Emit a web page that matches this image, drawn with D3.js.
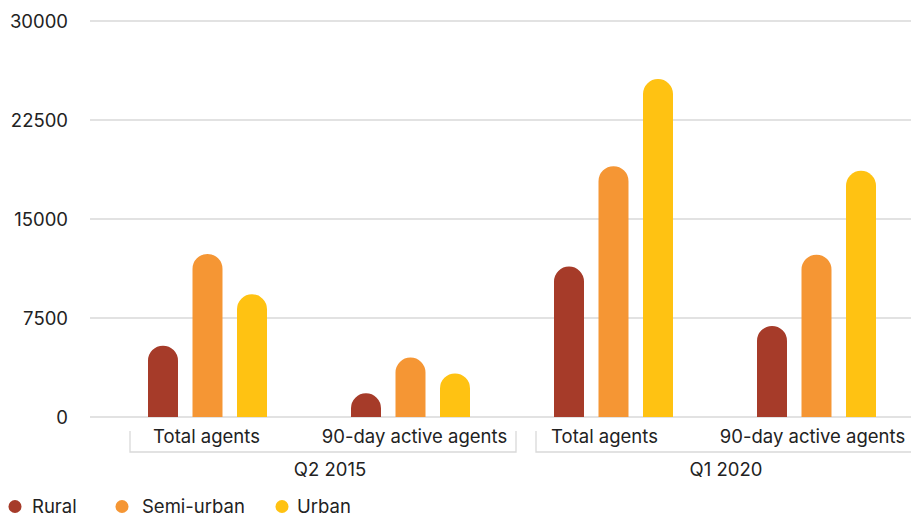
<!DOCTYPE html>
<html>
<head>
<meta charset="utf-8">
<script src="https://cdn.jsdelivr.net/npm/d3@7"></script>
<style>
  html, body { margin: 0; padding: 0; background: #fff; }
  svg { display: block; font-family: Inter, "Noto Sans", sans-serif; }
</style>
</head>
<body>
<svg id="chart" width="911" height="516"></svg>
<script>
// Agent counts by location, two periods
const periods = ["Q2 2015", "Q1 2020"];
const measures = ["Total agents", "90-day active agents"];
const series = ["Rural", "Semi-urban", "Urban"];
const colors = ["#A63B29", "#F59634", "#FFC212"];

// values per category (period × measure), in series order
const rural     = [5400, 1800, 11400, 6900];
const semiUrban = [12350, 4500, 19000, 12300];
const urban     = [9300, 3300, 25600, 18650];

const yTicks = [0, 7500, 15000, 22500, 30000];

const categories = [];
periods.forEach(p => measures.forEach(m => categories.push({ period: p, measure: m })));
const seriesValues = [rural, semiUrban, urban];

const fontSize = 18.5;
const textColor = "#222";
const gridColor = "#d9d9d9";

const svg = d3.select("#chart");
const plotLeft = 90, plotRight = 911;
const y = d3.scaleLinear().domain([0, 30000]).range([417, 21]);

const x0 = d3.scaleBand().domain(d3.range(categories.length)).range([106, 918]).padding(0);
const x1 = d3.scaleBand().domain(series).range([0, 119]).paddingInner(0.326).paddingOuter(0);

// gridlines and y tick labels
const yAxis = svg.append("g");
yAxis.selectAll("line").data(yTicks).join("line")
  .attr("x1", plotLeft).attr("x2", plotRight)
  .attr("y1", d => y(d)).attr("y2", d => y(d))
  .attr("stroke", gridColor).attr("stroke-width", 1.3);
yAxis.selectAll("text").data(yTicks).join("text")
  .attr("x", 68).attr("y", d => y(d)).attr("dy", "0.36em")
  .attr("text-anchor", "end").attr("font-size", fontSize).attr("fill", textColor)
  .text(d => d);

// bars with rounded tops
function barPath(x, w, yTop, yBase) {
  const r = Math.min(w / 2, yBase - yTop);
  return `M${x},${yBase}V${yTop + r}A${r},${r} 0 0 1 ${x + r},${yTop}` +
         `H${x + w - r}A${r},${r} 0 0 1 ${x + w},${yTop + r}V${yBase}Z`;
}
const bw = x1.bandwidth();
const catCenter = i => x0(i) + x0.bandwidth() / 2;
const labelNudge = [-1, 4, -9, -4];

categories.forEach((c, i) => {
  const g = svg.append("g").attr("transform", `translate(${catCenter(i) - 59.5},0)`);
  series.forEach((s, k) => {
    const v = seriesValues[k][i];
    g.append("path")
      .attr("d", barPath(x1(s), bw, y(v), y(0)))
      .attr("fill", colors[k]);
  });
  svg.append("text")
    .attr("x", catCenter(i) + labelNudge[i]).attr("y", 443)
    .attr("text-anchor", "middle").attr("font-size", fontSize).attr("fill", textColor)
    .text(c.measure);
});

// period brackets and labels
const groupNudge = [7, -3];
periods.forEach((p, j) => {
  const left = x0(j * 2) + 24;
  const right = x0(j * 2 + 1) + x0.bandwidth() + 4;
  svg.append("path")
    .attr("d", `M${left},431V452H${right}V431`)
    .attr("fill", "none").attr("stroke", gridColor).attr("stroke-width", 1.3);
  svg.append("text")
    .attr("x", (left + right) / 2 + groupNudge[j]).attr("y", 476)
    .attr("text-anchor", "middle").attr("font-size", fontSize).attr("fill", textColor)
    .text(p);
});

// legend
const legendDot = [15, 122, 282];
const legendText = [32, 142, 297];
const legend = svg.append("g");
series.forEach((s, k) => {
  legend.append("circle").attr("cx", legendDot[k]).attr("cy", 506.5).attr("r", 6.5).attr("fill", colors[k]);
  legend.append("text").attr("x", legendText[k]).attr("y", 512.5)
    .attr("font-size", fontSize).attr("fill", textColor).text(s);
});
</script>
</body>
</html>
